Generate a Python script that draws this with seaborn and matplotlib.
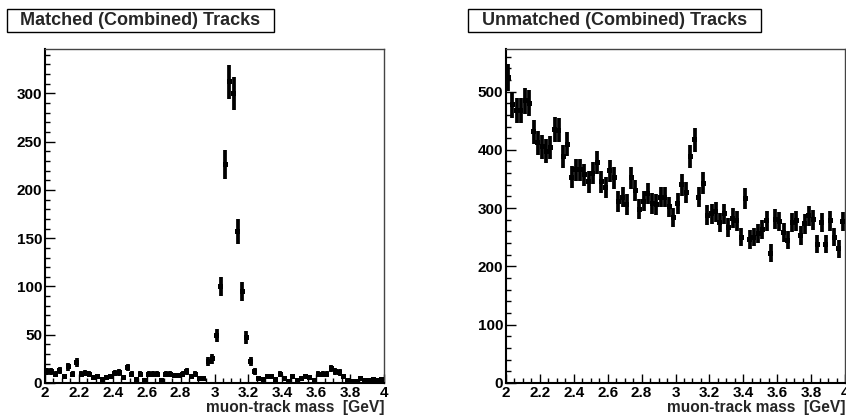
import numpy as np
import pandas as pd
import matplotlib
matplotlib.use("Agg")
import matplotlib.pyplot as plt
from matplotlib.patches import Rectangle
from matplotlib.ticker import MultipleLocator, FuncFormatter
import seaborn as sns

# Histogram binning: 80 bins between 2 and 4 GeV
bin_edges = np.linspace(2.0, 4.0, 81)
bin_centers = 0.5 * (bin_edges[:-1] + bin_edges[1:])

matched_counts = [
    12, 12, 9, 13, 7, 17, 9, 21, 9, 10,
    9, 6, 7, 4, 6, 7, 10, 11, 6, 16,
    9, 4, 9, 3, 9, 9, 9, 3, 9, 9,
    8, 8, 9, 12, 7, 9, 5, 5, 22, 25,
    49, 100, 226, 312, 300, 157, 95, 47, 22, 12,
    5, 4, 7, 7, 4, 9, 5, 2, 7, 3,
    5, 7, 6, 3, 9, 9, 9, 15, 12, 11,
    7, 3, 2, 2, 5, 3, 3, 4, 3, 4,
]

unmatched_counts = [
    524, 477, 468, 468, 484, 480, 431, 412, 405, 398,
    404, 435, 434, 389, 410, 353, 366, 366, 357, 345,
    360, 378, 345, 335, 364, 352, 311, 319, 306, 352,
    330, 298, 312, 325, 308, 306, 319, 319, 302, 284,
    308, 340, 327, 389, 417, 319, 343, 288, 290, 294,
    275, 290, 266, 283, 278, 250, 316, 246, 250, 256,
    264, 278, 223, 281, 277, 258, 245, 275, 278, 253,
    273, 287, 280, 238, 275, 238, 278, 250, 230, 277,
]

titles = ["Matched (Combined) Tracks", "Unmatched (Combined) Tracks"]
x_label = "muon-track mass  [GeV]"
x_ticks = [2.0, 2.2, 2.4, 2.6, 2.8, 3.0, 3.2, 3.4, 3.6, 3.8, 4.0]

sns.set_theme(style="ticks")
plt.rcParams["font.family"] = ["Liberation Sans", "DejaVu Sans"]
plt.rcParams["font.weight"] = "bold"

W, H = 846, 418
fig = plt.figure(figsize=(W / 100, H / 100), dpi=100)
fig.patch.set_facecolor("white")


def px_axes(x0, y0, x1, y1):
    return fig.add_axes([x0 / W, 1 - y1 / H, (x1 - x0) / W, (y1 - y0) / H])


def xfmt(v, _):
    s = f"{v:.1f}"
    return s[:-2] if s.endswith(".0") else s


def draw_panel(ax, counts, ymax, major, minor, title, box):
    df = pd.DataFrame({"mass": bin_centers, "entries": counts})
    df["err"] = np.sqrt(df["entries"])
    ax.errorbar(df["mass"], df["entries"], yerr=df["err"], fmt="none",
                ecolor="black", elinewidth=2.7, capsize=0, zorder=2)
    sns.scatterplot(data=df, x="mass", y="entries", ax=ax, marker="s",
                    s=13, color="black", edgecolor="none", linewidth=0,
                    zorder=3, legend=False)
    ax.set_xlim(2.0, 4.0)
    ax.set_ylim(0, ymax)
    ax.set_facecolor("white")
    ax.set_ylabel("")
    ax.set_xlabel(x_label, loc="right", fontsize=11.2, fontweight="bold",
                  labelpad=0)
    ax.set_xticks(x_ticks)
    ax.xaxis.set_major_formatter(FuncFormatter(xfmt))
    ax.xaxis.set_minor_locator(MultipleLocator(0.05))
    ax.yaxis.set_major_locator(MultipleLocator(major))
    ax.yaxis.set_minor_locator(MultipleLocator(minor))
    ax.tick_params(axis="both", which="both", direction="in", top=False,
                   right=False, labelsize=11, colors="black")
    ax.tick_params(axis="x", which="major", length=6.5, width=1.0, pad=2.5)
    ax.tick_params(axis="x", which="minor", length=3.5, width=1.0)
    ax.tick_params(axis="y", which="major", length=7, width=1.0, pad=2)
    ax.tick_params(axis="y", which="minor", length=3.5, width=1.0)
    for lab in ax.get_xticklabels() + ax.get_yticklabels():
        lab.set_fontweight("bold")
    for side in ["top", "right"]:
        ax.spines[side].set_visible(True)
        ax.spines[side].set_linewidth(1.0)
        ax.spines[side].set_color("#444444")
    for side in ["bottom", "left"]:
        ax.spines[side].set_linewidth(1.5)
        ax.spines[side].set_color("black")

    # title box in the pad's upper-left corner
    bx0, by0, bx1, by1 = box
    fig.patches.append(Rectangle((bx0 / W, 1 - by1 / H), (bx1 - bx0) / W,
                                 (by1 - by0) / H, transform=fig.transFigure,
                                 facecolor="white", edgecolor="black",
                                 linewidth=1.0, zorder=5))
    fig.text((bx0 + bx1) / 2 / W, 1 - (by0 + by1) / 2 / H, title,
             ha="center", va="center", fontsize=13, fontweight="bold",
             zorder=6)


ax_left = px_axes(45, 49, 384, 383)
draw_panel(ax_left, matched_counts, 346, 50, 10, titles[0], (7, 9, 274, 32))

ax_right = px_axes(506, 49, 845, 383)
draw_panel(ax_right, unmatched_counts, 573, 100, 20, titles[1],
           (468, 9, 761, 32))

fig.savefig("out.png", dpi=100, facecolor="white")
